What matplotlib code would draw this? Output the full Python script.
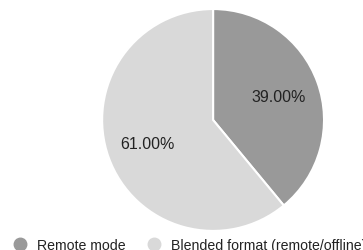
import matplotlib.pyplot as plt
from matplotlib.lines import Line2D

plt.rcParams['font.family'] = ['Liberation Sans', 'DejaVu Sans']

labels = ["Remote mode", "Blended format (remote/offline)"]
values = [39.0, 61.0]
colors = ["#999999", "#d9d9d9"]

fig = plt.figure(figsize=(3.63, 2.51), dpi=100)
ax = fig.add_axes([0.281, 0.076, 0.612, 0.884])
wedges, texts, autotexts = ax.pie(values, colors=colors, startangle=90, counterclock=False,
                                  autopct="%.2f%%", pctdistance=0.63,
                                  wedgeprops=dict(edgecolor="white", linewidth=1.5),
                                  textprops=dict(fontsize=11.5, color="#222222"))
ax.set_xlim(-1, 1)
ax.set_ylim(-1, 1)
ax.set_aspect("equal")

handles = [Line2D([], [], marker="o", linestyle="", markersize=9,
                  markerfacecolor=c, markeredgecolor=c) for c in colors]
fig.legend(handles, labels, loc="center left", bbox_to_anchor=(0.0, 0.02),
           ncol=2, frameon=False, fontsize=10.2, handletextpad=0.7, columnspacing=1.5,
           handlelength=1.0, labelcolor="#222222")

fig.savefig("out.png", dpi=100)
